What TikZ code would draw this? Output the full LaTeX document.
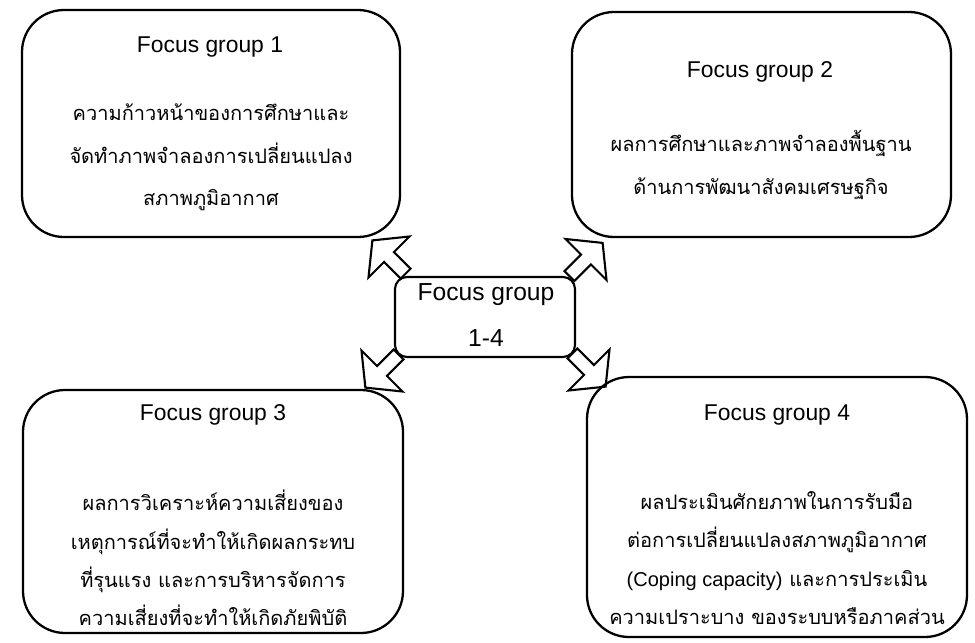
\documentclass[tikz,border=0pt]{standalone}
\usepackage{fontspec}
\setmainfont{Liberation Sans}
\newfontfamily\thai[Script=Thai]{Loma}
\newlength\pxu
\setlength\pxu{0.02cm}
\tikzset{
  fgbox/.style={draw, line width=1.3pt, rounded corners=42\pxu, minimum width=#1, inner sep=0pt},
  fgtitle/.style={font=\fontsize{13}{15}\selectfont, inner sep=0pt},
  fgbody/.style={font=\thai\fontsize{11.4}{24}\selectfont, align=center, inner sep=0pt},
  fgbody4/.style={font=\thai\fontsize{11.4}{21.9}\selectfont, align=center, inner sep=0pt},
  blockarrow/.style={draw, line width=1.2pt, line join=miter},
}
\newcommand\blockarr[2]{%
  \begin{scope}[shift={(#1)}, rotate=#2]
    \draw[blockarrow] (-23.5,-7) -- (0,-7) -- (0,-29) -- (23.5,0) -- (0,29) -- (0,7) -- (-23.5,7) -- cycle;
  \end{scope}}
\begin{document}
\begin{tikzpicture}[x=0.02cm, y=-0.02cm]
\useasboundingbox (0,0) rectangle (975,643);

% boxes
\node[fgbox=378\pxu, minimum height=227\pxu] (b1) at (211,123.5) {};
\node[fgbox=379\pxu, minimum height=225\pxu] (b2) at (761.5,124.5) {};
\node[fgbox=380\pxu, minimum height=243\pxu] (b3) at (213,511.5) {};
\node[fgbox=380\pxu, minimum height=260\pxu] (b4) at (777,507) {};
\node[draw, line width=1.2pt, rounded corners=12\pxu, minimum width=180\pxu, minimum height=80\pxu, inner sep=0pt] (c) at (485,317) {};

% titles
\node[fgtitle] (t1) at (210,47) {Focus group 1};
\node[fgtitle] (t2) at (760,72) {Focus group 2};
\node[fgtitle] (t3) at (213,415) {Focus group 3};
\node[fgtitle] (t4) at (777,415) {Focus group 4};
\node[font=\fontsize{14}{26}\selectfont, align=center, inner sep=0pt] (tc) at (486,315) {Focus group\\1-4};

% bodies
\node[fgbody] (d1) at (211,157.3) {ความก้าวหน้าของการศึกษาและ\\จัดทำภาพจำลองการเปลี่ยนแปลง\\สภาพภูมิอากาศ};
\node[fgbody] (d2) at (761,165) {ผลการศึกษาและภาพจำลองพื้นฐาน\\ด้านการพัฒนาสังคมเศรษฐกิจ};
\node[fgbody4] (d3) at (213,558) {ผลการวิเคราะห์ความเสี่ยงของ\\เหตุการณ์ที่จะทำให้เกิดผลกระทบ\\ที่รุนแรง และการบริหารจัดการ\\ความเสี่ยงที่จะทำให้เกิดภัยพิบัติ};
\node[fgbody4] (d4) at (777,558) {ผลประเมินศักยภาพในการรับมือ\\ต่อการเปลี่ยนแปลงสภาพภูมิอากาศ\\{\normalfont (Coping capacity)} และการประเมิน\\ความเปราะบาง ของระบบหรือภาคส่วน};

% block arrows
\coordinate (a1) at (389,257);
\coordinate (a2) at (586,259.5);
\coordinate (a3) at (382,371);
\coordinate (a4) at (589,370);
\blockarr{a1}{135}
\blockarr{a2}{45}
\blockarr{a3}{225}
\blockarr{a4}{315}
\end{tikzpicture}
\end{document}
